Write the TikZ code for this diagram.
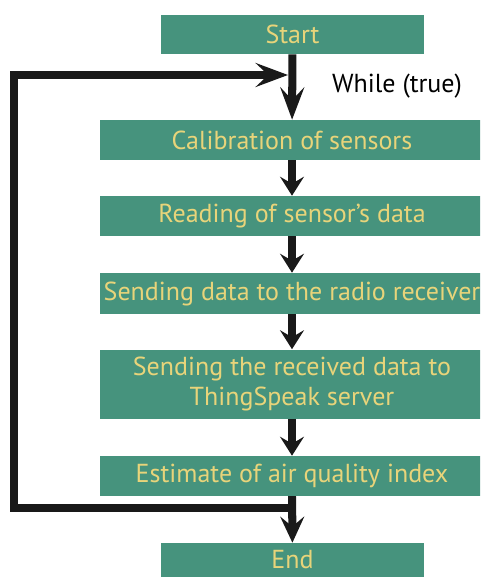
\documentclass[tikz,border=0pt]{standalone}
\usepackage{fontspec}
\setmainfont{PT Sans}
\usepackage{xcolor}
\usepackage{tikz}
\usetikzlibrary{arrows.meta,positioning}

\definecolor{boxgreen}{RGB}{70,147,125}
\definecolor{boxtext}{RGB}{232,212,122}

\begin{document}
\begin{tikzpicture}[
    x=0.025cm, y=-0.025cm,
    block/.style={rectangle, fill=boxgreen, text=boxtext, minimum height=40*0.025cm, inner sep=0pt, align=center, font=\fontsize{18.5}{22}\selectfont},
    wide/.style={block, minimum width=384*0.025cm},
    narrow/.style={block, minimum width=263*0.025cm},
    arrow/.style={-{Stealth[length=13.5pt, width=17pt, inset=5pt]}, line width=5.7pt, black!90},
    longarrow/.style={-{Stealth[length=23pt, width=17pt, inset=9pt]}, line width=5.7pt, black!90}
]
\useasboundingbox (0,0) rectangle (480,577);
\clip (0,0) rectangle (480,577);

% Boxes
\node[narrow, minimum height=39*0.025cm] (start) at (292.5, 34.5) {Start};
\node[wide] (calib) at (292, 140) {Calibration of sensors};
\node[wide] (reading) at (292, 216) {Reading of sensor's data};
\node[wide, minimum height=41*0.025cm] (sendradio) at (292, 293.5) {Sending data to the radio receiver};
\node[wide, minimum height=69*0.025cm] (sendserver) at (292, 384) {Sending the received data to\\ThingSpeak server};
\node[wide] (estimate) at (292, 476) {Estimate of air quality index};
\node[narrow, minimum height=34*0.025cm] (finish) at (292.5, 560) {End};

% Loop label
\node[font=\fontsize{18.5}{22}\selectfont] (while) at (397, 86) {While (true)};

% Loop corners
\coordinate (loopdown) at (292, 508);
\coordinate (loopleft) at (14, 508);
\coordinate (loopup) at (14, 75);
\coordinate (loopin) at (288, 75);

% Arrows
\draw[longarrow] (start) -- (calib);
\draw[arrow] (calib) -- (reading);
\draw[arrow] (reading) -- (sendradio);
\draw[arrow] (sendradio) -- (sendserver);
\draw[arrow] (sendserver) -- (estimate);
\draw[arrow, -{Stealth[length=18.5pt, width=17pt, inset=7pt]}] (estimate) -- (finish);

% Loop back
\draw[longarrow] (estimate.south) -- (loopdown) -- (loopleft) -- (loopup) -- (loopin);

\end{tikzpicture}
\end{document}
